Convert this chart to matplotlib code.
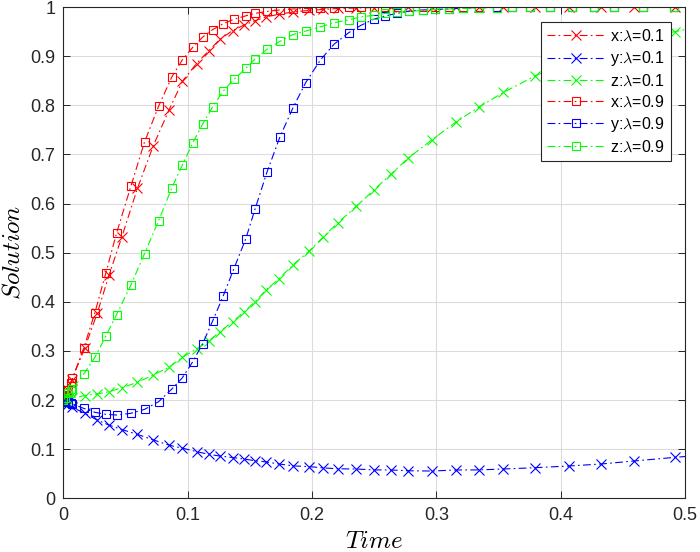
import numpy as np
import matplotlib
matplotlib.use("Agg")
import matplotlib.pyplot as plt

plt.rcParams["font.family"] = ["Liberation Sans", "DejaVu Sans"]
plt.rcParams["mathtext.fontset"] = "cm"

# pasos de tiempo del integrador (lambda = 0.1)
t_01 = [0, 0.0013, 0.0027, 0.004, 0.0066, 0.017, 0.0273, 0.0366, 0.0468, 0.0595,
        0.0722, 0.085, 0.0957, 0.107, 0.1169, 0.1257, 0.136, 0.145, 0.154, 0.163,
        0.173, 0.1846, 0.1975, 0.2087, 0.2207, 0.2355, 0.2494, 0.2636, 0.277, 0.2965,
        0.3158, 0.3345, 0.3538, 0.3795, 0.4063, 0.4325, 0.459, 0.492, 0.5]

x_01 = [0.2, 0.205, 0.212, 0.220, 0.241, 0.305, 0.378, 0.454, 0.531, 0.631,
        0.7175, 0.791, 0.849, 0.885, 0.911, 0.934, 0.952, 0.963, 0.972, 0.980,
        0.985, 0.990, 0.993, 0.995, 0.997, 0.998, 0.999, 0.9995, 1.0, 1.0,
        1.0, 1.0, 1.0, 1.0, 1.0, 1.0, 1.0, 1.0, 1.0]

y_01 = [0.2, 0.197, 0.194, 0.191, 0.186, 0.173, 0.159, 0.149, 0.140, 0.130,
        0.119, 0.108, 0.102, 0.095, 0.0895, 0.086, 0.083, 0.080, 0.0765, 0.074,
        0.070, 0.066, 0.0645, 0.062, 0.060, 0.0596, 0.0578, 0.0576, 0.056, 0.0555,
        0.0576, 0.0578, 0.0596, 0.0623, 0.0657, 0.0698, 0.0759, 0.0834, 0.085]

z_01 = [0.2, 0.201, 0.202, 0.203, 0.204, 0.209, 0.2125, 0.217, 0.225, 0.236,
        0.251, 0.267, 0.287, 0.304, 0.320, 0.339, 0.359, 0.379, 0.400, 0.424,
        0.446, 0.475, 0.503, 0.531, 0.561, 0.594, 0.627, 0.660, 0.692, 0.730,
        0.766, 0.797, 0.826, 0.860, 0.890, 0.914, 0.933, 0.950, 0.954]

# pasos de tiempo del integrador (lambda = 0.9)
t_09 = [0, 0.0012, 0.0039, 0.0058, 0.0072, 0.0163, 0.0253, 0.034, 0.0427, 0.0542,
        0.0652, 0.0765, 0.087, 0.0955, 0.104, 0.112, 0.120, 0.1285, 0.137, 0.1466,
        0.154, 0.1637, 0.174, 0.1846, 0.1948, 0.2066, 0.2175, 0.2296, 0.2395, 0.2494,
        0.259, 0.2681, 0.2783, 0.289, 0.2992, 0.310, 0.3212, 0.3345, 0.3484, 0.361,
        0.375, 0.391, 0.409, 0.427, 0.443, 0.466, 0.491, 0.5]

x_09 = [0.2, 0.210, 0.2205, 0.234, 0.244, 0.306, 0.378, 0.458, 0.540, 0.635,
        0.7255, 0.798, 0.857, 0.892, 0.918, 0.939, 0.954, 0.966, 0.975, 0.982,
        0.987, 0.991, 0.994, 0.996, 0.997, 0.998, 0.999, 0.9995, 1.0, 1.0,
        1.0, 1.0, 1.0, 1.0, 1.0, 1.0, 1.0, 1.0, 1.0, 1.0,
        1.0, 1.0, 1.0, 1.0, 1.0, 1.0, 1.0, 1.0]

y_09 = [0.2, 0.199, 0.196, 0.194, 0.192, 0.183, 0.175, 0.171, 0.1695, 0.173,
        0.181, 0.1966, 0.222, 0.245, 0.278, 0.315, 0.361, 0.412, 0.467, 0.528,
        0.588, 0.664, 0.735, 0.795, 0.846, 0.892, 0.924, 0.948, 0.963, 0.975,
        0.982, 0.987, 0.992, 0.994, 0.995, 0.996, 0.998, 0.999, 1.0, 1.0,
        1.0, 1.0, 1.0, 1.0, 1.0, 1.0, 1.0, 1.0]

z_09 = [0.2, 0.204, 0.2135, 0.219, 0.222, 0.253, 0.287, 0.330, 0.374, 0.434,
        0.498, 0.565, 0.631, 0.678, 0.7235, 0.762, 0.797, 0.829, 0.8525, 0.875,
        0.894, 0.914, 0.930, 0.944, 0.951, 0.9595, 0.968, 0.974, 0.980, 0.983,
        0.987, 0.989, 0.991, 0.993, 0.995, 0.996, 0.997, 0.998, 0.999, 0.9995,
        1.0, 1.0, 1.0, 1.0, 1.0, 1.0, 1.0, 1.0]

fig = plt.figure(figsize=(7, 5.52), dpi=100)
ax = fig.add_axes([0.0907, 0.0973, 0.888, 0.89])

verde = (0, 1, 0)
series = [
    (t_01, x_01, "r", "x", r"x:$\lambda$=0.1"),
    (t_01, y_01, "b", "x", r"y:$\lambda$=0.1"),
    (t_01, z_01, verde, "x", r"z:$\lambda$=0.1"),
    (t_09, x_09, "r", "s", r"x:$\lambda$=0.9"),
    (t_09, y_09, "b", "s", r"y:$\lambda$=0.9"),
    (t_09, z_09, verde, "s", r"z:$\lambda$=0.9"),
]

for t, v, cor, mk, rot in series:
    ms = 6.5 if mk == "x" else 5.5
    ax.plot(t, v, linestyle="-.", dashes=(7, 3, 1.5, 3), color=cor, lw=0.8,
            marker=mk, ms=ms, mfc="none", mec=cor, mew=0.8,
            markevery=slice(0, len(t) - 1), label=rot)

ax.set_xlim(0, 0.5)
ax.set_ylim(0, 1)
ax.set_xticks(np.arange(0, 0.51, 0.1))
ax.set_yticks(np.arange(0, 1.01, 0.1))
ax.set_xticklabels(["0", "0.1", "0.2", "0.3", "0.4", "0.5"])
ax.set_yticklabels(["0"] + [f"{v:.1f}" for v in np.arange(0.1, 0.95, 0.1)] + ["1"])

ax.grid(True, color="#dcdcdc", lw=0.8)
ax.set_axisbelow(True)
ax.tick_params(direction="in", length=5, width=0.7, top=True, right=True,
               labelsize=13, colors="#262626", pad=6)
for s in ax.spines.values():
    s.set_color("#262626")
    s.set_linewidth(0.8)

ax.set_xlabel(r"$Time$", fontsize=18, labelpad=4)
ax.set_ylabel(r"$Solution$", fontsize=18, labelpad=4)

leg = ax.legend(loc="upper right", bbox_to_anchor=(0.978, 0.969), fontsize=11.5,
                handlelength=3.6, labelspacing=0.33, handletextpad=0.35,
                borderpad=0.4, borderaxespad=0, fancybox=False, framealpha=1,
                edgecolor="#262626")
leg.get_frame().set_linewidth(0.8)

fig.savefig("out.png", dpi=100)
